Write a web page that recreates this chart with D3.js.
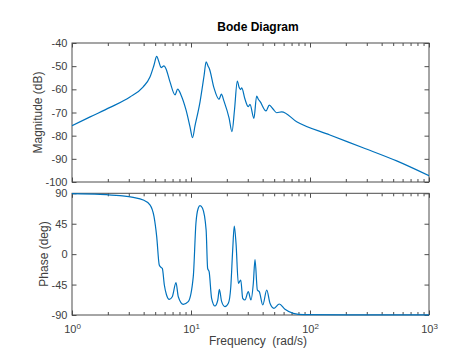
<!DOCTYPE html>
<html><head><meta charset="utf-8">
<script src="https://cdn.jsdelivr.net/npm/d3@7"></script>
<style>body{margin:0;background:#fff}svg{display:block}text{font-family:"Liberation Sans",Arial,Helvetica,sans-serif}</style>
</head><body><svg id="c" width="474" height="355"></svg>
<script>
const magFreq=[1.00,1.42,2.09,3.07,3.95,4.52,4.89,5.15,5.38,5.60,5.93,6.17,6.66,7.34,7.73,8.24,9.08,9.82,10.3,10.8,11.9,12.9,13.4,13.9,14.3,15.6,17.2,18.0,18.9,20.9,22.1,23.2,24.5,25.3,26.1,26.7,28.4,30.3,31.3,33.8,35.6,36.9,38.0,42.7,45.5,48.9,52.5,57.8,77.3,147,279,535,1000];
const magDb=[-75.7,-71.9,-67.8,-63.3,-59.0,-54.7,-49.5,-45.8,-48.2,-50.6,-49.9,-51.2,-56.8,-62.4,-59.9,-62.4,-68.9,-76.3,-80.9,-75.8,-65.5,-53.8,-48.1,-49.9,-51.2,-59.4,-64.3,-62.1,-65.0,-72.4,-78.3,-68.9,-56.4,-59.0,-60.1,-59.4,-64.2,-67.5,-66.5,-72.5,-62.9,-64.4,-65.2,-69.3,-66.8,-68.5,-70.1,-69.7,-74.0,-79.7,-85.2,-90.9,-97.3];
const phaseFreq=[1.00,1.72,2.53,3.27,3.97,4.52,4.89,5.15,5.41,5.60,5.74,5.97,6.22,6.57,6.96,7.48,7.82,8.61,9.48,10.45,11.0,11.5,11.9,12.5,13.4,13.8,14.2,14.9,15.9,16.8,17.3,18.1,19.3,20.6,21.6,22.4,23.1,23.9,25.0,26.2,27.2,28.4,30.3,31.9,33.4,34.5,36.1,37.5,40.1,43.3,46.1,49.8,55.2,61.6,72.4,87.9,217,1000];
const phaseDeg=[89.5,88.5,86.5,84,80,73,55.5,26,-16,-19.5,-21,-45.6,-60,-66.8,-63,-42.2,-63,-74.2,-70.3,-33.3,45.6,67.8,71.7,67.8,35.7,-21,-26,-65.3,-76.7,-67.8,-52,-70.3,-77.7,-72.7,-48.1,6,41.6,16,-43.1,-38.2,-65.3,-67.8,-55.5,-67.8,-43.1,-8,-53,-55.5,-75.2,-53,-72.7,-80.1,-73.7,-81.6,-87.5,-89.5,-89.7,-89.8];
const freqTicks=[1,10,100,1000];
const freqExp=["0","1","2","3"];
const magTicks=[-100,-90,-80,-70,-60,-50,-40];
const phaseTicks=[-90,-45,0,45,90];
const titleText="Bode Diagram";
const xLabelText="Frequency  (rad/s)";
const magLabelText="Magnitude (dB)";
const phaseLabelText="Phase (deg)";

const svg=d3.select("#c");
svg.append("rect").attr("width",474).attr("height",355).attr("fill","#fff");
const axisColor="#4d4d4d", textColor="#404040", lineColor="#0072BD";
const x=d3.scaleLog().domain([1,1000]).range([72,429]);
const minor=[];
for(let d=0;d<3;d++)for(let k=2;k<=9;k++)minor.push(k*Math.pow(10,d));

function panel(yDomain,yRange,yTicks,freqs,vals,showX,clipId){
  const y=d3.scaleLinear().domain(yDomain).range(yRange);
  const top=yRange[1],bot=yRange[0];
  const g=svg.append("g");
  const style=sel=>{sel.select(".domain").remove();sel.selectAll("line").attr("stroke",axisColor);
    sel.selectAll("text").attr("fill",textColor).style("font-size","11px").style("font-family",'"Liberation Sans",Arial,sans-serif');};
  // x axes
  g.append("g").attr("transform",`translate(0,${bot})`).call(d3.axisBottom(x).tickValues(minor).tickSize(-3).tickFormat("")).call(style);
  g.append("g").attr("transform",`translate(0,${top})`).call(d3.axisTop(x).tickValues(minor).tickSize(-3).tickFormat("")).call(style);
  const xb=g.append("g").attr("transform",`translate(0,${bot})`).call(d3.axisBottom(x).tickValues(freqTicks).tickSize(-4.5).tickPadding(10.5).tickFormat(showX?(d=>""):"")).call(style);
  g.append("g").attr("transform",`translate(0,${top})`).call(d3.axisTop(x).tickValues(freqTicks).tickSize(-4.5).tickFormat("")).call(style);
  if(showX){
    xb.selectAll(".tick text").each(function(d,i){
      const t=d3.select(this).text(null).attr("dy",null).attr("y",18.3);
      t.append("tspan").text("10");
      t.append("tspan").attr("dy",-4).style("font-size","8px").text(freqExp[i]);
    });
  }
  // y axes
  g.append("g").attr("transform",`translate(72,0)`).call(d3.axisLeft(y).tickValues(yTicks).tickSize(-4.5).tickPadding(4.5).tickFormat(d=>String(d))).call(style);
  g.append("g").attr("transform",`translate(429,0)`).call(d3.axisRight(y).tickValues(yTicks).tickSize(-4.5).tickFormat("")).call(style);
  // box
  g.append("rect").attr("x",72).attr("y",top).attr("width",357).attr("height",bot-top).attr("fill","none").attr("stroke",axisColor).attr("stroke-width",1);
  // line
  svg.append("clipPath").attr("id",clipId).append("rect").attr("x",72).attr("y",top-1).attr("width",357).attr("height",bot-top+2);
  const data=freqs.map((f,i)=>[f,vals[i]]);
  svg.append("path").datum(data).attr("clip-path",`url(#${clipId})`)
    .attr("d",d3.line().x(d=>x(d[0])).y(d=>y(d[1])).curve(d3.curveMonotoneX))
    .attr("fill","none").attr("stroke",lineColor).attr("stroke-width",1.2);
}
panel([-100,-40],[182,43],magTicks,magFreq,magDb,false,"cm");
panel([-90,90],[315,193.3],phaseTicks,phaseFreq,phaseDeg,true,"cp");

svg.append("text").attr("x",258).attr("y",31).attr("text-anchor","middle").style("font-size","12px").style("font-weight","bold").attr("fill","#000").text(titleText);
svg.append("text").attr("x",258).attr("y",344.5).attr("text-anchor","middle").style("font-size","12px").attr("fill",textColor).style("white-space","pre").text(xLabelText);
svg.append("text").attr("transform","translate(41.5,112.5) rotate(-90)").attr("text-anchor","middle").style("font-size","12px").attr("fill",textColor).text(magLabelText);
svg.append("text").attr("transform","translate(48,254) rotate(-90)").attr("text-anchor","middle").style("font-size","12px").attr("fill",textColor).text(phaseLabelText);
</script></body></html>
